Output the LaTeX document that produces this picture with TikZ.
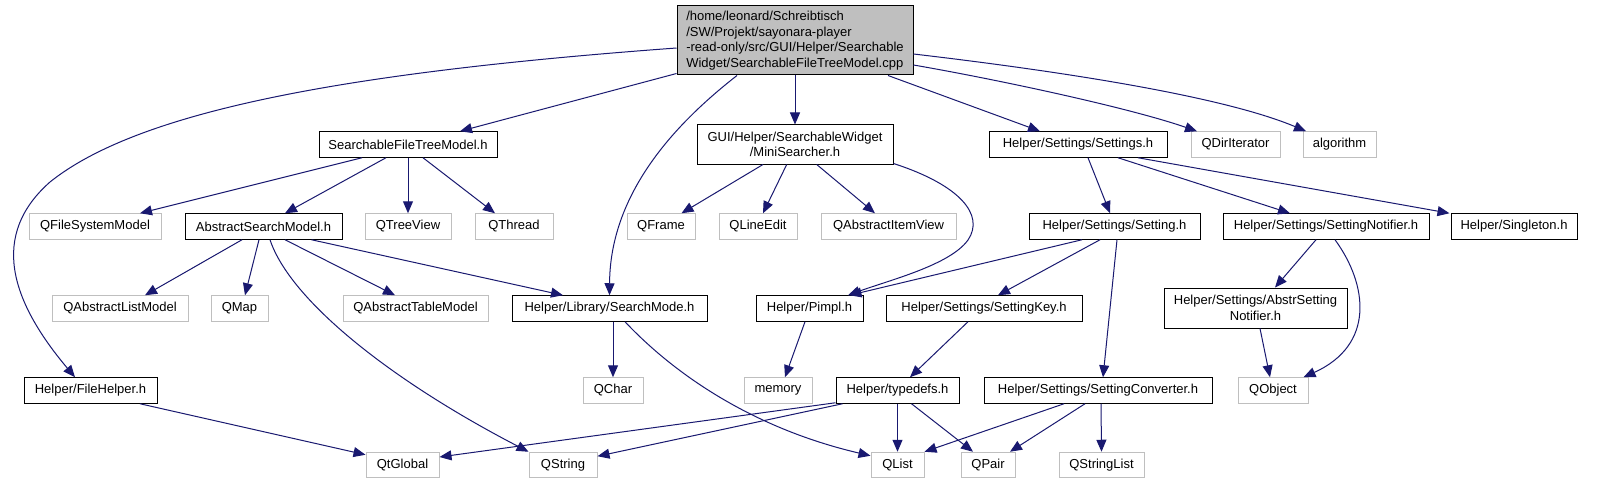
\documentclass[tikz,border=0pt]{standalone}
\usepackage{fontspec}
\setmainfont{Liberation Sans}
\usetikzlibrary{arrows.meta}
\definecolor{edgeblue}{HTML}{191970}
\definecolor{extgray}{HTML}{BFBFBF}
\begin{document}
\begin{tikzpicture}[x=1pt,y=-1pt,
  box/.style={draw=black, line width=1pt, inner sep=0pt, minimum height=25.5pt,
    font=\fontsize{13}{15.5}\selectfont, anchor=center, align=center},
  ext/.style={box, draw=extgray},
  edge/.style={draw=edgeblue, line width=1pt, -{Triangle[length=12pt,width=10pt]}}]
\useasboundingbox[fill=white] (0,0) rectangle (1597,484);
% row 0
\node[box, fill=extgray, minimum width=236pt, minimum height=69pt, align=left] (root) at (795,40.5)
 {/home/leonard/Schreibtisch\\/SW/Projekt/sayonara-player\\-read-only/src/GUI/Helper/Searchable\\Widget/SearchableFileTreeModel.cpp};
% row 1
\node[box, minimum width=178pt] (sftm) at (408,144.5) {SearchableFileTreeModel.h};
\node[box, minimum width=196pt, minimum height=39pt] (mini) at (795,144.5) {GUI/Helper/SearchableWidget\\/MiniSearcher.h};
\node[box, minimum width=178pt] (settings) at (1078,144.5) {Helper/Settings/Settings.h};
\node[ext, minimum width=89pt] (qdir) at (1235.5,144.5) {QDirIterator};
\node[ext, minimum width=73pt] (algo) at (1339.5,144.5) {algorithm};
% row 2
\node[ext, minimum width=132pt] (qfsm) at (95,226.5) {QFileSystemModel};
\node[box, minimum width=157pt] (asm) at (263.5,226.5) {AbstractSearchModel.h};
\node[ext, minimum width=86pt] (qtree) at (408,226.5) {QTreeView};
\node[ext, minimum width=78pt] (qthread) at (514,226.5) {QThread};
\node[ext, minimum width=68pt] (qframe) at (661,226.5) {QFrame};
\node[ext, minimum width=78pt] (qline) at (758,226.5) {QLineEdit};
\node[ext, minimum width=135pt] (qaiv) at (888.5,226.5) {QAbstractItemView};
\node[box, minimum width=171pt] (setting) at (1114.5,226.5) {Helper/Settings/Setting.h};
\node[box, minimum width=206pt] (snotif) at (1326,226.5) {Helper/Settings/SettingNotifier.h};
\node[box, minimum width=126pt] (single) at (1514,226.5) {Helper/Singleton.h};
% row 3
\node[ext, minimum width=136pt] (qalm) at (120,308.5) {QAbstractListModel};
\node[ext, minimum width=57pt] (qmap) at (239.5,308.5) {QMap};
\node[ext, minimum width=145pt] (qatm) at (415.5,308.5) {QAbstractTableModel};
\node[box, minimum width=195pt] (smode) at (609.5,308.5) {Helper/Library/SearchMode.h};
\node[box, minimum width=107pt] (pimpl) at (809.5,308.5) {Helper/Pimpl.h};
\node[box, minimum width=196pt] (skey) at (984,308.5) {Helper/Settings/SettingKey.h};
\node[box, minimum width=183pt, minimum height=40pt] (absn) at (1255.5,308) {Helper/Settings/AbstrSetting\\Notifier.h};
% row 4
\node[box, minimum width=133pt] (fileh) at (90.5,390.5) {Helper/FileHelper.h};
\node[ext, minimum width=60pt] (qchar) at (613,390.5) {QChar};
\node[ext, minimum width=68pt] (memory) at (778,390.5) {memory};
\node[box, minimum width=123pt] (typedefs) at (897.5,390.5) {Helper/typedefs.h};
\node[box, minimum width=228pt] (sconv) at (1098,390.5) {Helper/Settings/SettingConverter.h};
\node[ext, minimum width=70pt] (qobject) at (1273,390.5) {QObject};
% row 5
\node[ext, minimum width=73pt] (qtglobal) at (402.5,465) {QtGlobal};
\node[ext, minimum width=68pt] (qstring) at (563,465) {QString};
\node[ext, minimum width=53pt] (qlist) at (897.5,465) {QList};
\node[ext, minimum width=54pt] (qpair) at (988,465) {QPair};
\node[ext, minimum width=85pt] (qslist) at (1101.5,465) {QStringList};
% edges from root
\draw[edge] ([yshift=-7.5pt]root.west) .. controls (350,72) and (140,110) .. (50,182)
  .. controls (-10,235) and (10,300) .. ([xshift=-15.5pt]fileh.north);
\draw[edge] ([yshift=2pt]root.south west) -- ([xshift=52pt]sftm.north);
\draw[edge] ([xshift=-58pt]root.south) .. controls (680,120) and (610,190) .. (smode.north);
\draw[edge] (root.south) -- (mini.north);
\draw[edge] ([xshift=93pt]root.south) -- ([xshift=-38pt]settings.north);
\draw[edge] ([yshift=-24.5pt]root.east) .. controls (1000,80) and (1130,108) .. ([xshift=-38.5pt]qdir.north);
\draw[edge] ([yshift=-13.5pt]root.east) .. controls (1050,70) and (1220,95) .. ([xshift=-33.5pt]algo.north);
% sftm
\draw[edge] ([xshift=-46pt]sftm.south) -- ([xshift=45pt]qfsm.north);
\draw[edge] ([xshift=-22pt]sftm.south) -- ([xshift=21.5pt]asm.north);
\draw[edge] (sftm.south) -- (qtree.north);
\draw[edge] ([xshift=15pt]sftm.south) -- ([xshift=-19pt]qthread.north);
% asm
\draw[edge] ([xshift=-21.5pt]asm.south) -- ([xshift=25pt]qalm.north);
\draw[edge] ([xshift=-4.5pt]asm.south) -- ([xshift=5.5pt]qmap.north);
\draw[edge] ([xshift=6.5pt]asm.south) .. controls (290,300) and (390,380) .. (qstring.north west);
\draw[edge] ([xshift=21.5pt]asm.south) -- ([xshift=-20.5pt]qatm.north);
\draw[edge] ([xshift=48pt]asm.south) -- ([xshift=-46.5pt]smode.north);
% mini
\draw[edge] ([xshift=-32pt]mini.south) -- ([xshift=20.5pt]qframe.north);
\draw[edge] ([xshift=-8.3pt]mini.south) -- ([xshift=5pt]qline.north);
\draw[edge] ([xshift=21.7pt]mini.south) -- ([xshift=-13.5pt]qaiv.north);
\draw[edge] ([yshift=1pt]mini.south east) .. controls (960,185) and (985,215) .. (968,240)
  .. controls (950,265) and (890,280) .. ([xshift=38.5pt]pimpl.north);
% settings
\draw[edge] ([xshift=10pt]settings.south) -- ([xshift=-4.5pt]setting.north);
\draw[edge] ([xshift=40pt]settings.south) -- ([xshift=-36pt]snotif.north);
\draw[edge] ([xshift=60pt]settings.south) -- ([xshift=-1pt]single.north west);
% setting
\draw[edge] ([xshift=-32.5pt]setting.south) -- ([xshift=40pt]pimpl.north);
\draw[edge] ([xshift=-14.5pt]setting.south) -- ([xshift=14pt]skey.north);
\draw[edge] ([xshift=2.5pt]setting.south) -- ([xshift=5pt]sconv.north);
% snotif
\draw[edge] ([xshift=-10pt]snotif.south) -- ([xshift=19.5pt]absn.north);
\draw[edge] ([xshift=9pt]snotif.south) .. controls (1368,285) and (1375,345) .. ([xshift=-5pt]qobject.north east);
\draw[edge] ([xshift=4.5pt]absn.south) -- ([xshift=-3pt]qobject.north);
% smode
\draw[edge] ([xshift=3.5pt]smode.south) -- (qchar.north);
\draw[edge] ([xshift=15.5pt]smode.south) .. controls (680,380) and (760,430) .. ([yshift=-4pt]qlist.north west);
% pimpl, skey
\draw[edge] ([xshift=-4.5pt]pimpl.south) -- ([xshift=7pt]memory.north);
\draw[edge] ([xshift=-16pt]skey.south) -- ([xshift=12.5pt]typedefs.north);
% typedefs
\draw[edge] ([yshift=1pt]typedefs.south west) -- ([yshift=8pt]qtglobal.east);
\draw[edge] ([xshift=7pt]typedefs.south west) -- ([yshift=-4.5pt]qstring.north east);
\draw[edge] (typedefs.south) -- (qlist.north);
\draw[edge] ([xshift=14pt]typedefs.south) -- ([xshift=-15pt]qpair.north);
% sconv
\draw[edge] ([xshift=-34pt]sconv.south) -- (qlist.north east);
\draw[edge] ([xshift=-13pt]sconv.south) -- ([xshift=22pt]qpair.north);
\draw[edge] ([xshift=3pt]sconv.south) -- (qslist.north);
% fileh
\draw[edge] ([xshift=49.5pt]fileh.south) -- ([yshift=-3pt]qtglobal.north west);
\end{tikzpicture}
\end{document}
